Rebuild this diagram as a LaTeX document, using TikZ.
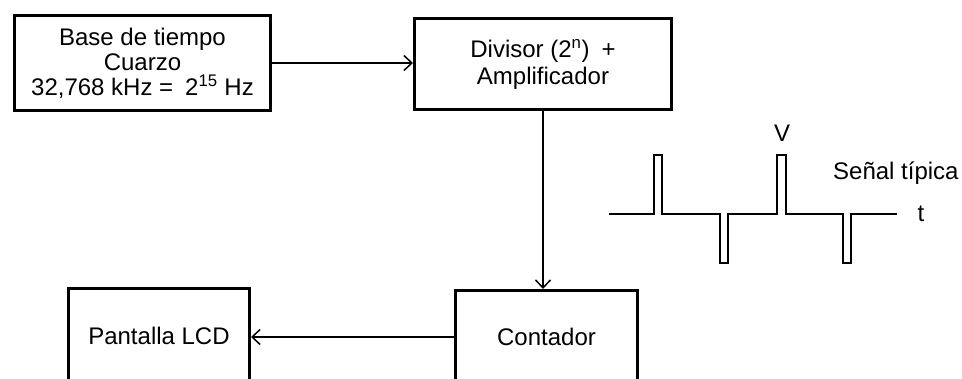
\documentclass[tikz,border=0pt]{standalone}
\usepackage{fontspec}
\setmainfont{Liberation Sans}
\usetikzlibrary{arrows.meta}

\begin{document}
\begin{tikzpicture}[x=1pt, y=-1pt,
        every node/.style={font=\fontsize{24}{25}\selectfont, inner sep=0pt},
        block/.style={draw, line width=3pt, align=center},
        link/.style={line width=1.5pt, -{Straight Barb[length=8pt, width=15pt]}}
    ]
    \useasboundingbox (0,0) rectangle (962,379);
    \clip (0,0) rectangle (962,379);
    % blocks
    \node[block, minimum width=256pt, minimum height=95pt] (base) at (142.5,63)
        {Base de tiempo\\Cuarzo\\32,768 kHz =\enspace 2\textsuperscript{15} Hz};
    \node[block, minimum width=257pt, minimum height=91pt] (div) at (543,64)
        {Divisor (2\textsuperscript{n})\enspace +\\[2pt]Amplificador};
    \node[block, minimum width=182pt, minimum height=93pt] (cont) at (546.5,337) {Contador};
    \node[block, minimum width=181pt, minimum height=95pt] (lcd) at (159,336) {Pantalla LCD};
    % connectors
    \draw[link] (base.east) -- (base.east -| div.west);
    \draw[link] (div.south) -- (div.south |- cont.north);
    \draw[link] (cont.west) -- (cont.west -| lcd.east);
    % signal
    \draw[line width=2pt] (609,214) -- (654,214) -- (654,155) -- (662,155) -- (662,214)
        -- (720,214) -- (720,263) -- (728,263) -- (728,214) -- (777,214) -- (777,155)
        -- (786,155) -- (786,214) -- (843,214) -- (843,263) -- (851,263) -- (851,214)
        -- (897,214);
    \node (volt) at (782,133) {V};
    \node[anchor=west] (senal) at (833,173) {Señal típica};
    \node (tiempo) at (921,214) {t};
\end{tikzpicture}
\end{document}
